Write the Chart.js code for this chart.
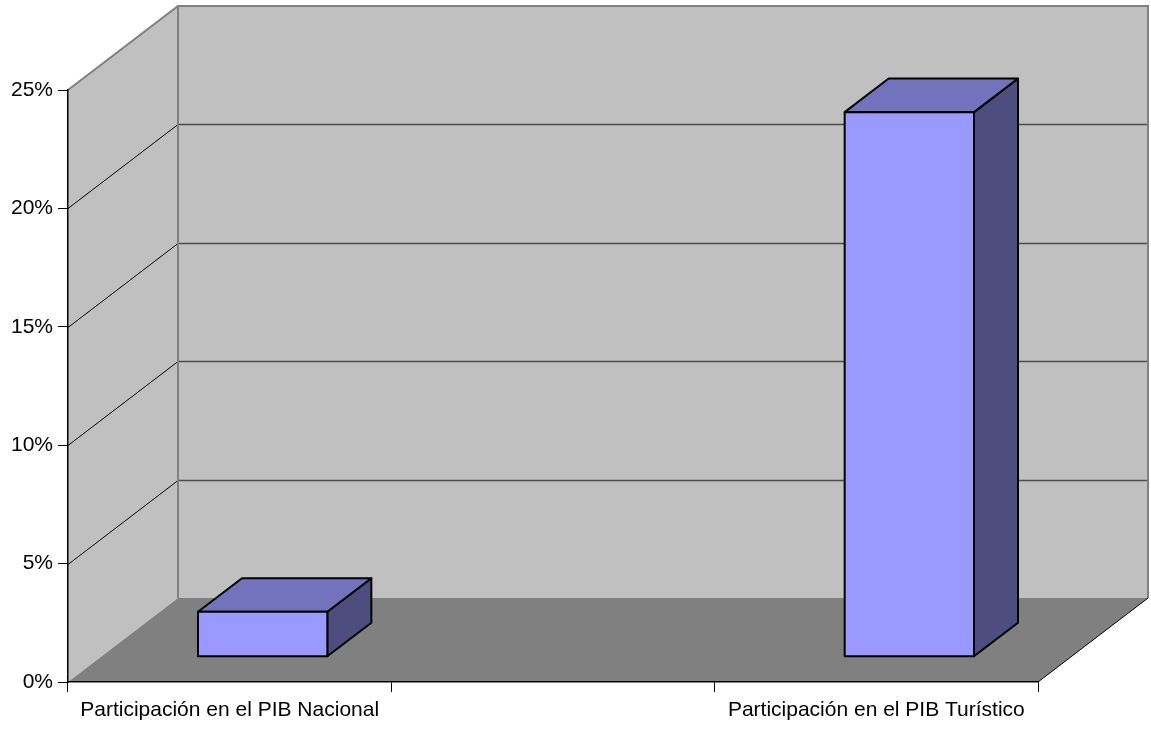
<!DOCTYPE html>
<html>
<head>
<meta charset="utf-8">
<script src="https://cdn.jsdelivr.net/npm/chart.js@4"></script>
<style>
  html, body { margin: 0; padding: 0; background: #fff; }
  #wrap { width: 1151px; height: 729px; }
</style>
</head>
<body>
<div id="wrap"><canvas id="pibChart" width="1151" height="729"></canvas></div>
<script>
// data (percent)
const categories = ['Participación en el PIB Nacional', '', 'Participación en el PIB Turístico'];
const participacion = [1.9, null, 23];
const yTicks = [0, 5, 10, 15, 20, 25];

// 3D look
const DEPTH_X = 110;
const DEPTH_Y = -84;
const BAR_FRONT = 0.3;
const BAR_BACK = 0.7;

function poly(ctx, pts, fill, stroke, lw) {
  ctx.beginPath();
  ctx.moveTo(pts[0][0], pts[0][1]);
  for (let i = 1; i < pts.length; i++) ctx.lineTo(pts[i][0], pts[i][1]);
  ctx.closePath();
  if (fill) { ctx.fillStyle = fill; ctx.fill(); }
  if (stroke) { ctx.strokeStyle = stroke; ctx.lineWidth = lw; ctx.stroke(); }
}

function line(ctx, x1, y1, x2, y2, color, lw) {
  ctx.beginPath();
  ctx.moveTo(x1, y1);
  ctx.lineTo(x2, y2);
  ctx.strokeStyle = color;
  ctx.lineWidth = lw;
  ctx.stroke();
}

const walls3d = {
  id: 'walls3d',
  beforeDraw(chart) {
    const ctx = chart.ctx;
    const a = chart.chartArea;
    const yScale = chart.scales.y;
    const L = a.left, R = a.right, T = a.top, B = a.bottom;
    const dx = DEPTH_X, dy = DEPTH_Y;
    ctx.save();
    // back wall
    poly(ctx, [[L + dx, B + dy], [R + dx, B + dy], [R + dx, T + dy], [L + dx, T + dy]], '#c0c0c0', null);
    // left wall
    poly(ctx, [[L, B], [L, T], [L + dx, T + dy], [L + dx, B + dy]], '#c0c0c0', null);
    // floor
    poly(ctx, [[L, B], [R, B], [R + dx, B + dy], [L + dx, B + dy]], '#808080', null);
    // gridlines
    yTicks.forEach(v => {
      if (v === 0 || v === yTicks[yTicks.length - 1]) return;
      const py = Math.round(yScale.getPixelForValue(v)) + 0.5;
      line(ctx, L + dx, py + dy, R + dx, py + dy, '#4d4d4d', 1.5);
      line(ctx, L, py, L + dx, py + dy, '#000', 1);
    });
    // wall borders
    ctx.beginPath();
    ctx.moveTo(L, T);
    ctx.lineTo(L + dx, T + dy);
    ctx.lineTo(R + dx, T + dy);
    ctx.lineTo(R + dx, B + dy);
    ctx.moveTo(L + dx, T + dy);
    ctx.lineTo(L + dx, B + dy);
    ctx.strokeStyle = '#808080';
    ctx.lineWidth = 2;
    ctx.stroke();
    line(ctx, R, B, R + dx, B + dy, '#000', 1);
    ctx.restore();
  },
  afterDatasetsDraw(chart) {
    const ctx = chart.ctx;
    const meta = chart.getDatasetMeta(0);
    const fdx = DEPTH_X * BAR_FRONT, fdy = DEPTH_Y * BAR_FRONT;
    const sdx = DEPTH_X * (BAR_BACK - BAR_FRONT), sdy = DEPTH_Y * (BAR_BACK - BAR_FRONT);
    ctx.save();
    ctx.lineJoin = 'round';
    meta.data.forEach((el, i) => {
      if (participacion[i] == null) return;
      const p = el.getProps(['x', 'y', 'base', 'width'], true);
      const x0 = p.x - p.width / 2 + fdx, x1 = p.x + p.width / 2 + fdx;
      const y0 = p.y + fdy, y1 = p.base + fdy;
      // side
      poly(ctx, [[x1, y1], [x1, y0], [x1 + sdx, y0 + sdy], [x1 + sdx, y1 + sdy]], '#4d4d80', '#000', 2);
      // top
      poly(ctx, [[x0, y0], [x1, y0], [x1 + sdx, y0 + sdy], [x0 + sdx, y0 + sdy]], '#7373bd', '#000', 2);
      // front
      poly(ctx, [[x0, y0], [x1, y0], [x1, y1], [x0, y1]], '#9999ff', '#000', 2);
    });
    ctx.restore();
  }
};

Chart.defaults.font.family = '"Liberation Sans", Arial, sans-serif';
Chart.defaults.font.size = 21;
Chart.defaults.color = '#000';

const ctx = document.getElementById('pibChart').getContext('2d');

new Chart(ctx, {
  type: 'bar',
  data: {
    labels: categories,
    datasets: [{
      label: 'Participación',
      data: participacion,
      backgroundColor: 'rgba(0,0,0,0)',
      borderWidth: 0,
      categoryPercentage: 1,
      barPercentage: 0.4
    }]
  },
  options: {
    responsive: false,
    animation: false,
    layout: { padding: { top: 90, right: 113, left: 0, bottom: 0 } },
    plugins: {
      legend: { display: false },
      tooltip: { enabled: false }
    },
    scales: {
      x: {
        afterFit: s => { s.height = 47; },
        grid: { display: true, drawOnChartArea: false, offset: true, tickLength: 10, color: '#000', lineWidth: 1 },
        border: { display: true, color: '#000', width: 1.5 },
        ticks: { padding: 6, maxRotation: 0, autoSkip: false, color: '#000' }
      },
      y: {
        min: 0,
        max: 25,
        afterFit: s => { s.width = 68; },
        afterBuildTicks: s => { s.ticks = yTicks.map(v => ({ value: v })); },
        grid: { display: true, drawOnChartArea: false, tickLength: 10, color: '#000', lineWidth: 1 },
        border: { display: true, color: '#000', width: 1.5 },
        ticks: { padding: 5, color: '#000', callback: v => v + '%' }
      }
    }
  },
  plugins: [walls3d]
});
</script>
</body>
</html>
